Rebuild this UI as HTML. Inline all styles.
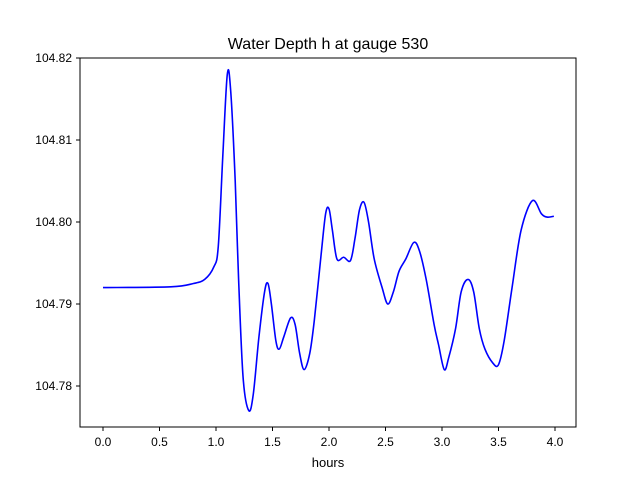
<!DOCTYPE html>
<html><head><meta charset="utf-8"><style>
body{margin:0;background:#fff;}
svg{display:block;font-family:"Liberation Sans","DejaVu Sans",sans-serif;}
</style></head><body>
<svg id="chart" width="640" height="480">
<rect width="640" height="480" fill="#fff"/>
<text x="328" y="49" font-size="16" text-anchor="middle">Water Depth h at gauge 530</text>
<g id="xt"></g>
<g id="yt"></g>
<path id="line" fill="none" stroke="#0000ff" stroke-width="1.6"/>
<rect x="80" y="58" width="496" height="369" fill="none" stroke="#000" stroke-width="1"/>
<text x="328" y="467" font-size="13" text-anchor="middle">hours</text>
</svg>
<script>
const hours=[0.0,0.6,0.8,0.9,0.98,1.02,1.06,1.1,1.13,1.17,1.2,1.24,1.29,1.33,1.38,1.43,1.46,1.49,1.53,1.56,1.6,1.66,1.7,1.74,1.78,1.83,1.87,1.93,1.97,2.0,2.03,2.07,2.13,2.19,2.23,2.27,2.31,2.35,2.4,2.47,2.52,2.57,2.62,2.68,2.75,2.8,2.86,2.93,2.97,3.02,3.06,3.12,3.17,3.23,3.28,3.33,3.38,3.45,3.5,3.55,3.62,3.7,3.8,3.88,3.93,3.99];
const depth=[104.792,104.7921,104.7925,104.793,104.7945,104.797,104.808,104.818,104.816,104.805,104.793,104.781,104.777,104.779,104.786,104.7915,104.7925,104.790,104.7855,104.7845,104.786,104.7883,104.7875,104.784,104.782,104.784,104.788,104.796,104.801,104.8016,104.799,104.7955,104.7957,104.7953,104.798,104.8015,104.8024,104.800,104.7955,104.792,104.790,104.7915,104.794,104.7955,104.7975,104.7965,104.793,104.7875,104.785,104.782,104.7835,104.787,104.7915,104.793,104.7915,104.787,104.7845,104.7828,104.7826,104.7855,104.792,104.799,104.8026,104.801,104.8006,104.8007];
const xTicks=[0,0.5,1,1.5,2,2.5,3,3.5,4];
const yTicks=[104.78,104.79,104.80,104.81,104.82];
const yLabels=["104.78","104.79","104.80","104.81","104.82"];
const sx=v=>103+v*113;
const sy=v=>386-(v-104.78)*8200;
const NS="http://www.w3.org/2000/svg";
const P=hours.map((h,i)=>[sx(h),sy(depth[i])]);
let d='M'+P[0][0]+','+P[0][1];
for(let i=0;i<P.length-1;i++){
  const p0=P[Math.max(i-1,0)],p1=P[i],p2=P[i+1],p3=P[Math.min(i+2,P.length-1)];
  const c1=[p1[0]+(p2[0]-p0[0])/6,p1[1]+(p2[1]-p0[1])/6];
  const c2=[p2[0]-(p3[0]-p1[0])/6,p2[1]-(p3[1]-p1[1])/6];
  d+=' C'+c1[0]+','+c1[1]+' '+c2[0]+','+c2[1]+' '+p2[0]+','+p2[1];
}
document.getElementById('line').setAttribute('d',d);
const xt=document.getElementById('xt'),yt=document.getElementById('yt');
xTicks.forEach(t=>{
  const l=document.createElementNS(NS,'line');
  
  
  l.setAttribute('x1',sx(t));l.setAttribute('x2',sx(t));l.setAttribute('y1',427);l.setAttribute('y2',431);l.setAttribute('stroke','#000');
  xt.appendChild(l);
  const tx=document.createElementNS(NS,'text');
  
  
  tx.setAttribute('x',sx(t));tx.setAttribute('y',446);tx.setAttribute('font-size','12');tx.setAttribute('text-anchor','middle');
  tx.textContent=t.toFixed(1);xt.appendChild(tx);
});
yTicks.forEach((t,i)=>{
  const l=document.createElementNS(NS,'line');
  
  
  l.setAttribute('x1',76);l.setAttribute('x2',80);l.setAttribute('y1',sy(t));l.setAttribute('y2',sy(t));l.setAttribute('stroke','#000');
  yt.appendChild(l);
  const tx=document.createElementNS(NS,'text');
  
  
  tx.setAttribute('x',72);tx.setAttribute('y',sy(t)+4);tx.setAttribute('font-size','12');tx.setAttribute('text-anchor','end');
  tx.textContent=yLabels[i];yt.appendChild(tx);
});
</script>
</body></html>
